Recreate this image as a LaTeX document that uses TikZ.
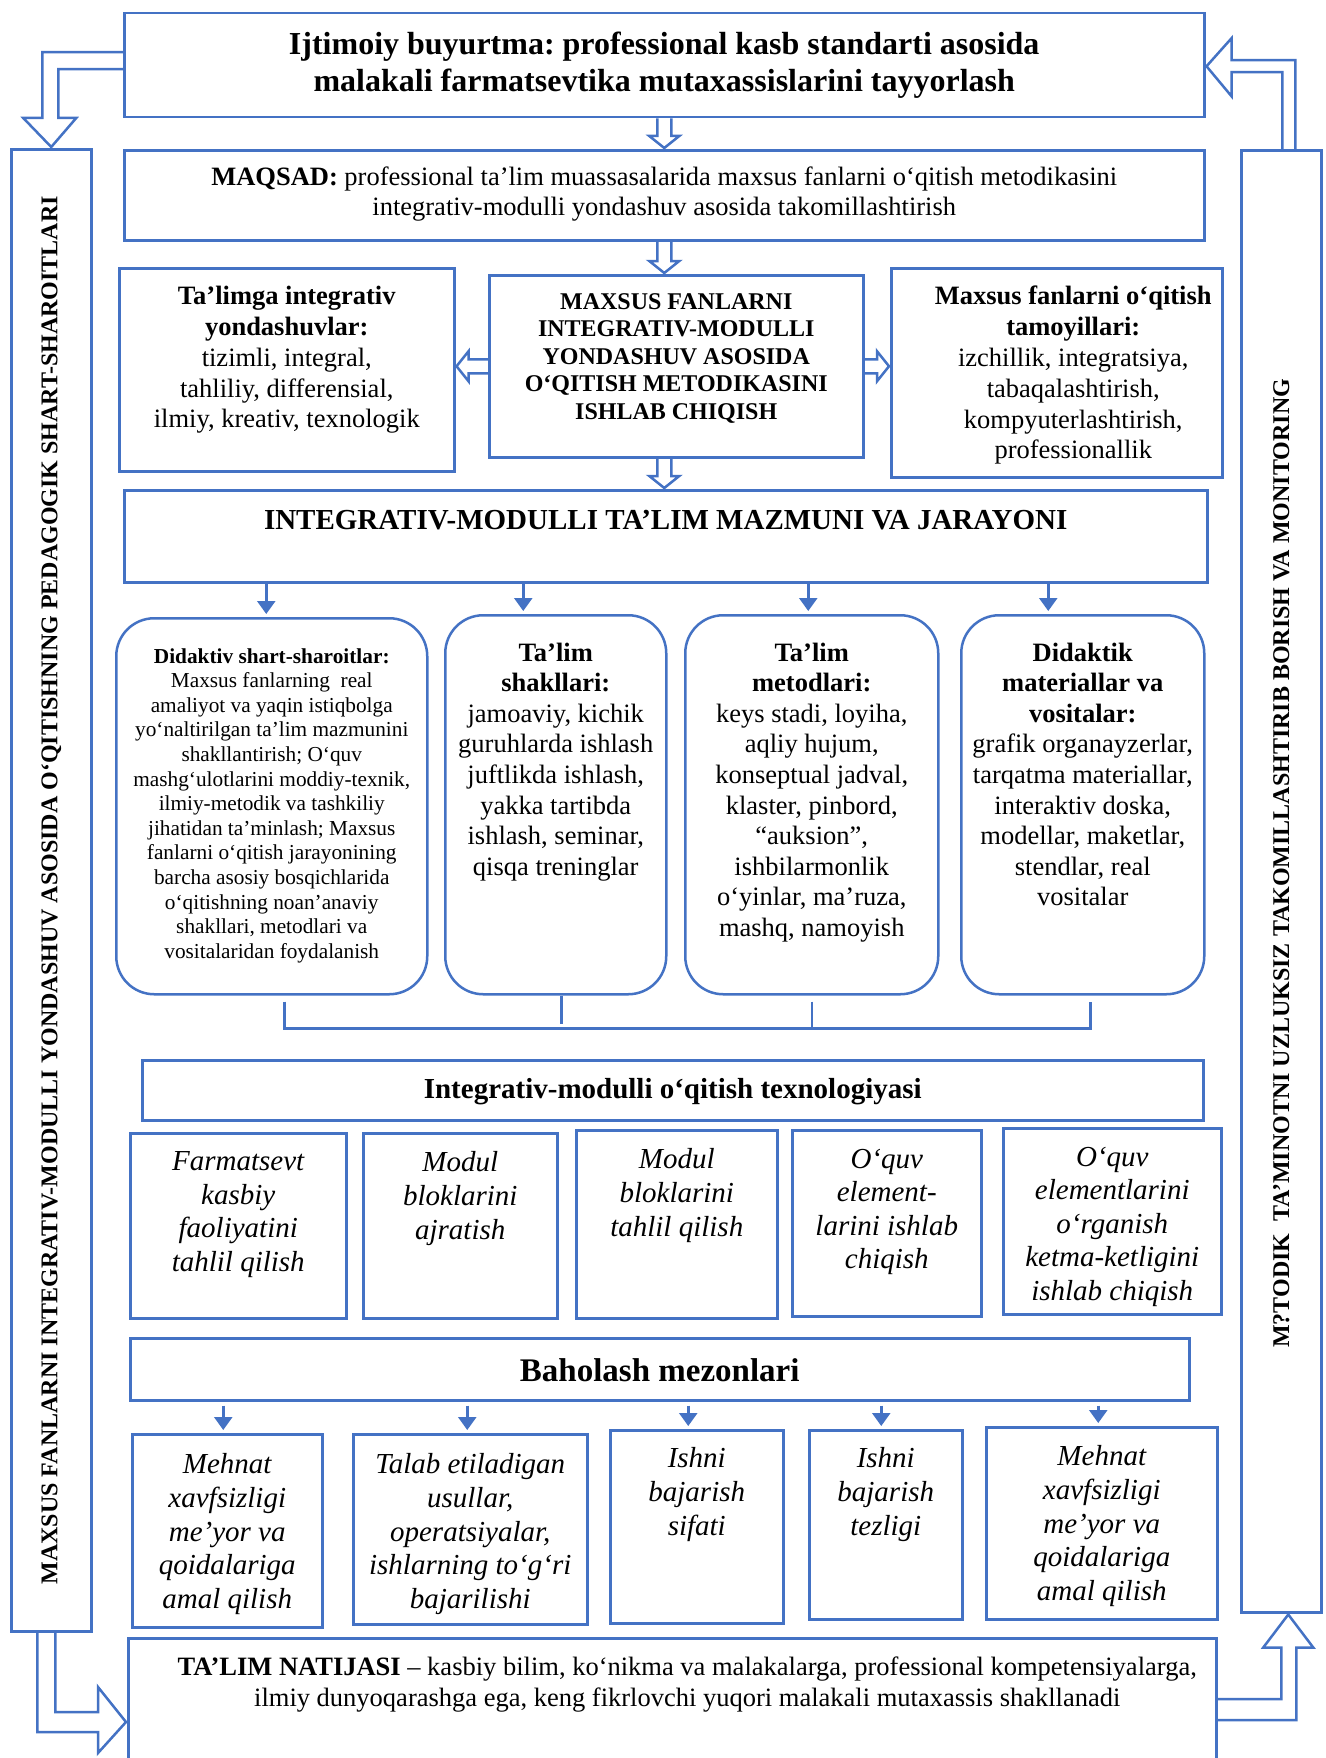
\documentclass[tikz,border=0pt]{standalone}
\usepackage{fontspec}
\setmainfont{Liberation Serif}
\usetikzlibrary{arrows.meta}
\definecolor{linkblue}{RGB}{68,114,196}
\frenchspacing

% text inside a box: width, height, top gap, lines
\newcommand{\boxtext}[4]{\parbox[t][#2pt][t]{#1pt}{\vspace*{#3pt}\centering #4}}
% hollow block arrows between boxes
\newcommand{\blockdown}[2]{%
  \draw[hollow] ([xshift=-7pt]#1) -- ([xshift=-7pt,yshift=13pt]#2) -- ([xshift=-15pt,yshift=13pt]#2)
    -- ([yshift=1pt]#2) -- ([xshift=15pt,yshift=13pt]#2) -- ([xshift=7pt,yshift=13pt]#2) -- ([xshift=7pt]#1);}
\newcommand{\blockside}[3]{%
  \draw[hollow] ([yshift=7pt]#1) -- ([xshift={-13pt*(#3)},yshift=7pt]#2) -- ([xshift={-13pt*(#3)},yshift=15pt]#2)
    -- ([xshift={-1pt*(#3)}]#2) -- ([xshift={-13pt*(#3)},yshift=-15pt]#2) -- ([xshift={-13pt*(#3)},yshift=-7pt]#2)
    -- ([yshift=-7pt]#1);}

\begin{document}
\begin{tikzpicture}[x=1pt,y=-1pt,
  framebox/.style={draw=linkblue, line width=2.5pt, inner sep=0pt, anchor=north west, fill=white},
  roundbox/.style={framebox, rounded corners=38pt},
  hollow/.style={draw=linkblue, line width=2.5pt},
  pointer/.style={draw=linkblue, line width=2.5pt, -{Triangle[length=13pt,width=18pt]}, shorten >=3pt},
  bracket/.style={draw=linkblue, line width=2.5pt}]
\fill[white] (0,0) rectangle (1325,1758);
\useasboundingbox (0,0) rectangle (1325,1758);

% head of the scheme
\node[framebox] (order) at (123,12) {\boxtext{1080}{104}{19}{\fontsize{32}{37}\selectfont\bfseries
  Ijtimoiy buyurtma: professional kasb standarti asosida\\
  malakali farmatsevtika mutaxassislarini tayyorlash}};
\node[framebox] (maqsad) at (123,149) {\boxtext{1080}{90}{17}{\fontsize{26.5}{30}\selectfont
  \textbf{MAQSAD:} professional ta’lim muassasalarida maxsus fanlarni o‘qitish metodikasini\\
  integrativ-modulli yondashuv asosida takomillashtirish}};

% side bars
\node[framebox, minimum width=80pt, minimum height=1482pt] (sidel) at (10,148)
  {\rotatebox{90}{\fontsize{24}{28}\selectfont\bfseries MAXSUS FANLARNI INTEGRATIV-MODULLI YONDASHUV ASOSIDA O‘QITISHNING PEDAGOGIK SHART-SHAROITLARI}};
\node[framebox, minimum width=80pt, minimum height=1462pt] (sider) at (1240,149)
  {\rotatebox{90}{\fontsize{24}{28}\selectfont\bfseries\hspace*{36pt}M?TODIK\ \ TA’MINOTNI UZLUKSIZ TAKOMILLASHTIRIB BORISH VA MONITORING}};

% middle row
\node[framebox] (lbox) at (118,267) {\boxtext{335}{203}{18}{\fontsize{26.5}{30.8}\selectfont
  \textbf{Ta’limga integrativ}\\ \textbf{yondashuvlar:}\\ tizimli, integral,\\ tahliliy, differensial,\\ ilmiy, kreativ, texnologik}};
\node[framebox] (cbox) at (488,274) {\boxtext{374}{182}{18}{\fontsize{24}{27.5}\selectfont\bfseries
  MAXSUS FANLARNI\\ INTEGRATIV-MODULLI\\ YONDASHUV ASOSIDA\\ O‘QITISH METODIKASINI\\ ISHLAB CHIQISH}};
\node[framebox] (rbox) at (890,267) {\boxtext{331}{209}{18}{\leftskip=33pt plus 1fil\fontsize{26.5}{30.8}\selectfont
  \textbf{Maxsus fanlarni o‘qitish}\\ \textbf{tamoyillari:}\\ izchillik, integratsiya,\\ tabaqalashtirish,\\ kompyuterlashtirish,\\ professionallik}};

\node[framebox] (mazmun) at (123,489) {\boxtext{1083}{92}{20}{\fontsize{29}{34}\selectfont\bfseries
  INTEGRATIV-MODULLI TA’LIM MAZMUNI VA JARAYONI}};

% content and process
\node[roundbox] (d1) at (115,617) {\boxtext{311}{376}{30}{\fontsize{21.3}{24.6}\selectfont
  \textbf{Didaktiv shart-sharoitlar:}\\ Maxsus fanlarning\ \ real\\ amaliyot va yaqin istiqbolga\\
  yo‘naltirilgan ta’lim mazmunini\\ shakllantirish; O‘quv\\ mashg‘ulotlarini moddiy-texnik,\\
  ilmiy-metodik va tashkiliy\\ jihatidan ta’minlash; Maxsus\\ fanlarni o‘qitish jarayonining\\
  barcha asosiy bosqichlarida\\ o‘qitishning noan’anaviy\\ shakllari, metodlari va\\ vositalaridan foydalanish}};
\node[roundbox] (d2) at (444,614) {\boxtext{221}{379}{27.5}{\fontsize{26.5}{30.6}\selectfont
  \textbf{Ta’lim}\\ \textbf{shakllari:}\\ jamoaviy, kichik\\ guruhlarda ishlash\\ juftlikda ishlash,\\
  yakka tartibda\\ ishlash, seminar,\\ qisqa treninglar}};
\node[roundbox] (d3) at (684,614) {\boxtext{253}{379}{27.5}{\fontsize{26.5}{30.6}\selectfont
  \textbf{Ta’lim}\\ \textbf{metodlari:}\\ keys stadi, loyiha,\\ aqliy hujum,\\ konseptual jadval,\\
  klaster, pinbord,\\ “auksion”,\\ ishbilarmonlik\\ o‘yinlar, ma’ruza,\\ mashq, namoyish}};
\node[roundbox] (d4) at (960,614) {\boxtext{243}{379}{27.5}{\fontsize{26.5}{30.6}\selectfont
  \textbf{Didaktik}\\ \textbf{materiallar va}\\ \textbf{vositalar:}\\ grafik organayzerlar,\\
  tarqatma materiallar,\\ interaktiv doska,\\ modellar, maketlar,\\ stendlar, real\\ vositalar}};

% technology
\node[framebox] (tech) at (141,1059) {\boxtext{1061}{60}{18.5}{\fontsize{29}{34}\selectfont\bfseries
  Integrativ-modulli o‘qitish texnologiyasi}};
\node[framebox] (t1) at (129,1132) {\boxtext{216}{185}{18.5}{\fontsize{29}{33.6}\selectfont\itshape
  Farmatsevt\\ kasbiy\\ faoliyatini\\ tahlil qilish}};
\node[framebox] (t2) at (362,1132) {\boxtext{194}{185}{18.5}{\fontsize{29}{33.6}\selectfont\itshape
  Modul\\ bloklarini\\ ajratish}};
\node[framebox] (t3) at (575,1129) {\boxtext{201}{188}{18.5}{\fontsize{29}{33.6}\selectfont\itshape
  Modul\\ bloklarini\\ tahlil qilish}};
\node[framebox] (t4) at (791,1129) {\boxtext{189}{186}{18.5}{\fontsize{29}{33.6}\selectfont\itshape
  O‘quv\\ element-\\ larini ishlab\\ chiqish}};
\node[framebox] (t5) at (1002,1127) {\boxtext{218}{186}{18.5}{\fontsize{29}{33.6}\selectfont\itshape
  O‘quv\\ elementlarini\\ o‘rganish\\ ketma-ketligini\\ ishlab chiqish}};

% assessment
\node[framebox] (criteria) at (129,1337) {\boxtext{1059}{62}{20}{\fontsize{33}{38}\selectfont\bfseries
  Baholash mezonlari}};
\node[framebox] (b1) at (131,1433) {\boxtext{190}{193}{19.5}{\fontsize{29}{33.6}\selectfont\itshape
  Mehnat\\ xavfsizligi\\ me’yor va\\ qoidalariga\\ amal qilish}};
\node[framebox] (b2) at (352,1433) {\boxtext{234}{190}{19.5}{\fontsize{29}{33.6}\selectfont\itshape
  Talab etiladigan\\ usullar,\\ operatsiyalar,\\ ishlarning to‘g‘ri\\ bajarilishi}};
\node[framebox] (b3) at (609,1429) {\boxtext{173}{193}{17.5}{\fontsize{29}{33.6}\selectfont\itshape
  Ishni\\ bajarish\\ sifati}};
\node[framebox] (b4) at (808,1429) {\boxtext{153}{189}{17.5}{\fontsize{29}{33.6}\selectfont\itshape
  Ishni\\ bajarish\\ tezligi}};
\node[framebox] (b5) at (985,1426) {\boxtext{231}{192}{18.5}{\fontsize{29}{33.6}\selectfont\itshape
  Mehnat\\ xavfsizligi\\ me’yor va\\ qoidalariga\\ amal qilish}};

% result
\node[framebox] (outcome) at (127,1637) {\boxtext{1088}{160}{18.7}{\leftskip=30pt plus 1fil\fontsize{26.5}{31}\selectfont
  \textbf{TA’LIM NATIJASI} – kasbiy bilim, ko‘nikma va malakalarga, professional kompetensiyalarga,\\
  ilmiy dunyoqarashga ega, keng fikrlovchi yuqori malakali mutaxassis shakllanadi}};

% hollow arrows
\blockdown{order.south}{maqsad.north}
\blockdown{maqsad.south}{cbox.north -| maqsad.south}
\blockdown{cbox.south -| maqsad.south}{mazmun.north -| maqsad.south}
\blockside{cbox.west}{lbox.east |- cbox.west}{-1}
\blockside{cbox.east}{rbox.west |- cbox.east}{1}

% loop arrows round the scheme
\draw[hollow] ([yshift=13pt]order.west) -| ([xshift=-9pt,yshift=30pt]sidel.north)
  -- ([xshift=-28pt,yshift=30pt]sidel.north) -- ([yshift=1pt]sidel.north)
  -- ([xshift=25pt,yshift=30pt]sidel.north) -- ([xshift=7pt,yshift=30pt]sidel.north)
  |- ([yshift=-4pt]order.west);
\draw[hollow] ([xshift=14pt]sider.north) |- ([xshift=26pt,yshift=5pt]order.east)
  -- ([xshift=26pt,yshift=27pt]order.east) -- ([xshift=1pt,yshift=-1pt]order.east)
  -- ([xshift=26pt,yshift=-31pt]order.east) -- ([xshift=26pt,yshift=-7pt]order.east)
  -| ([xshift=1pt]sider.north);
\draw[hollow] ([xshift=-14pt]sidel.south) |- ([xshift=-29pt,yshift=-95pt]outcome.north west)
  -- ([xshift=-29pt,yshift=-116pt]outcome.north west) -- ([xshift=-1pt,yshift=-85pt]outcome.north west)
  -- ([xshift=-29pt,yshift=-50pt]outcome.north west) -- ([xshift=-29pt,yshift=-75pt]outcome.north west)
  -| ([xshift=4pt]sidel.south);
\draw[hollow] ([yshift=-83pt]outcome.north east) -| ([xshift=15pt,yshift=-34pt]sider.south)
  -- ([xshift=32pt,yshift=-34pt]sider.south) -- ([xshift=7pt,yshift=-1pt]sider.south)
  -- ([xshift=-18pt,yshift=-34pt]sider.south) -- ([yshift=-34pt]sider.south)
  |- ([yshift=-62pt]outcome.north east);

% filled arrows
\draw[pointer] ([xshift=-5.5pt]mazmun.south -| d1.north) -- ([xshift=-5.5pt]d1.north);
\draw[pointer] ([xshift=-32.5pt]mazmun.south -| d2.north) -- ([xshift=-32.5pt]d2.north);
\draw[pointer] ([xshift=-3.5pt]mazmun.south -| d3.north) -- ([xshift=-3.5pt]d3.north);
\draw[pointer] ([xshift=-34.5pt]mazmun.south -| d4.north) -- ([xshift=-34.5pt]d4.north);
\draw[pointer] ([xshift=-4pt,yshift=-4pt]criteria.south -| b1.north) -- ([xshift=-4pt]b1.north);
\draw[pointer] ([xshift=-3pt,yshift=-4pt]criteria.south -| b2.north) -- ([xshift=-3pt]b2.north);
\draw[pointer] ([xshift=-8.5pt,yshift=-4pt]criteria.south -| b3.north) -- ([xshift=-8.5pt]b3.north);
\draw[pointer] ([xshift=-4.5pt,yshift=-4pt]criteria.south -| b4.north) -- ([xshift=-4.5pt]b4.north);
\draw[pointer] ([xshift=-3.5pt,yshift=-4pt]criteria.south -| b5.north) -- ([xshift=-3.5pt]b5.north);

% bracket under the rounded boxes
\draw[bracket] ([xshift=12.5pt,yshift=-6pt]d1.south) |- ([xshift=7.5pt,yshift=-33pt]d4.south)
  -- ([xshift=7.5pt,yshift=-6pt]d4.south);
\draw[bracket] ([xshift=5.5pt]d2.south) -- ([xshift=5.5pt,yshift=-28pt]d2.south);
\draw[bracket] ([yshift=-6pt]d3.south) -- ([yshift=-33pt]d3.south);
\end{tikzpicture}
\end{document}
